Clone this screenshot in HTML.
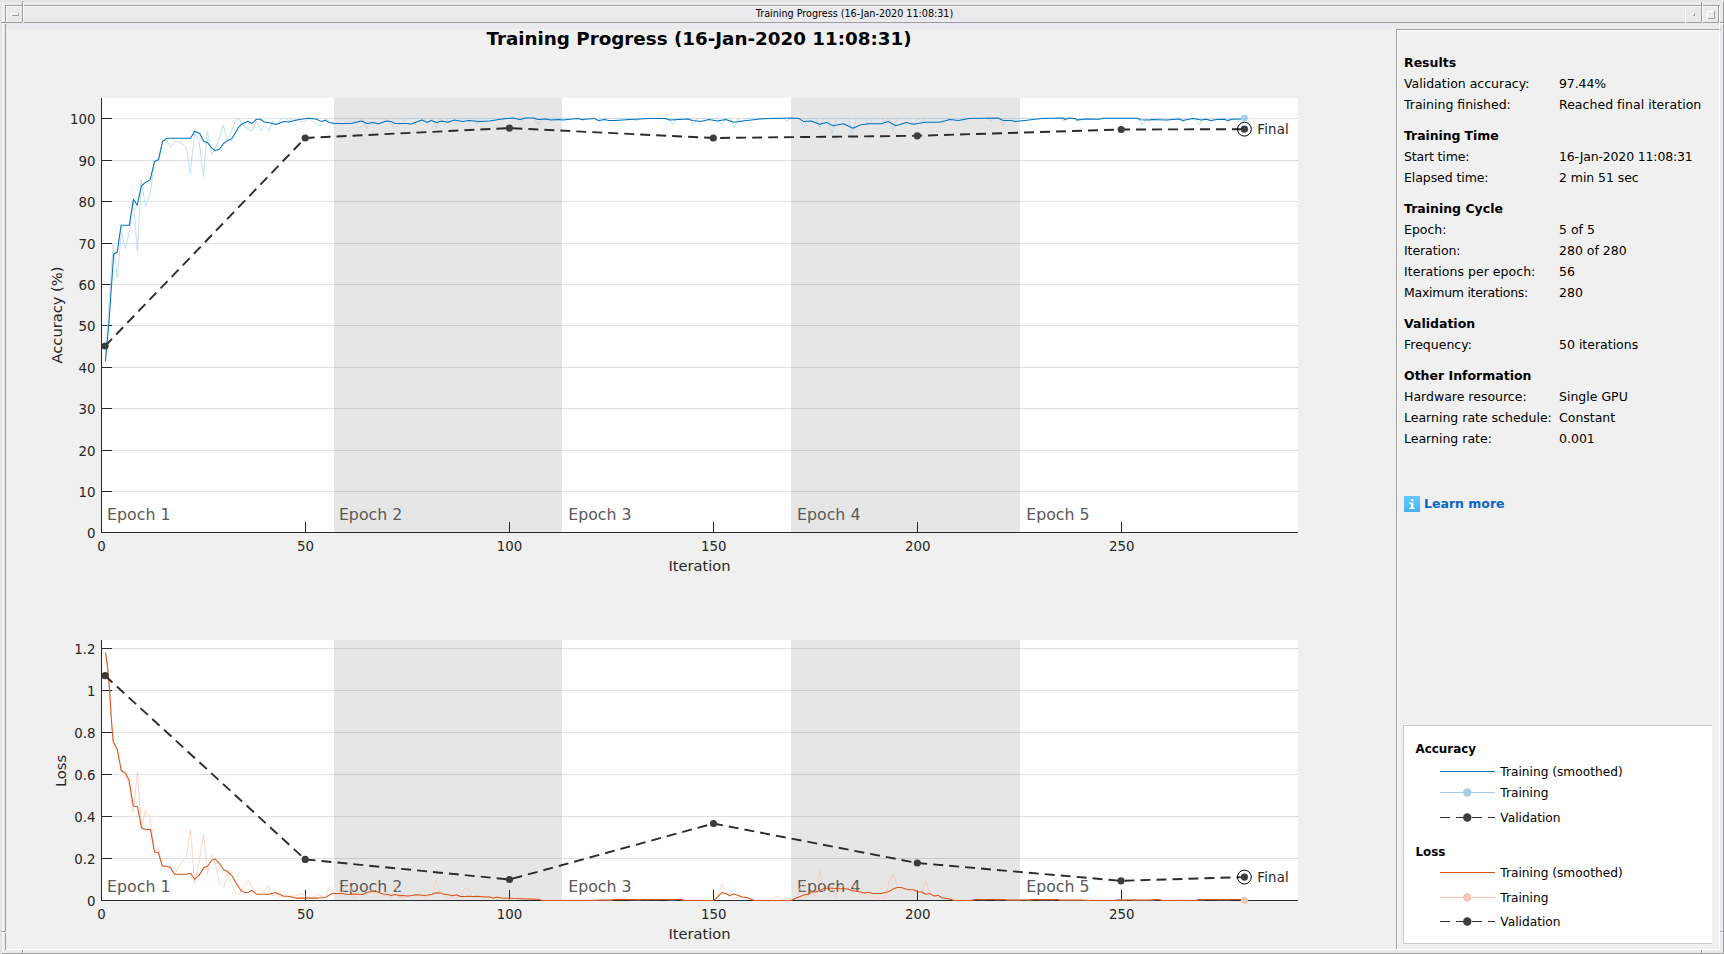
<!DOCTYPE html><html><head><meta charset="utf-8"><title>Training Progress (16-Jan-2020 11:08:31)</title><style>
html,body{margin:0;padding:0}
body{width:1724px;height:954px;overflow:hidden;background:#eae9ee;font-family:"DejaVu Sans","Liberation Sans",sans-serif;position:relative}
.a{position:absolute}
.dk{position:absolute;background:#9d9da2}
.wh{position:absolute;background:#fff}
#content{left:6px;top:29px;width:1713px;height:920px;background:#f0f0f0}
#wtitle{left:24px;top:6px;width:1661px;height:16px;line-height:16px;text-align:center;font-size:9.6px;color:#000;white-space:pre}
#ftitle{left:299px;width:800px;text-align:center;top:27px;font-size:18.3px;font-weight:bold;color:#000;white-space:pre;line-height:24px}
.pl{position:absolute;left:1404px;font-size:12.5px;line-height:21px;height:21px;color:#000;white-space:pre}
.pv{position:absolute;left:1559px;font-size:12.5px;line-height:21px;height:21px;color:#000;white-space:pre}
.ph{font-weight:bold}
#legend{left:1403px;top:725px;width:308px;height:217px;background:#fff;border:1px solid #c9c9c9;border-right:none;box-sizing:content-box}
.lg{position:absolute;font-size:12.2px;line-height:20px;height:20px;color:#000;white-space:pre}
svg text{font-family:"DejaVu Sans","Liberation Sans",sans-serif}
</style></head><body>
<div id="content" class="a"></div>
<div class="a" style="left:0px;top:0px;width:1724px;height:2px;background:#e4e4e4"></div><div class="a" style="left:0px;top:0px;width:2px;height:954px;background:#e4e4e4"></div><div class="a" style="left:2px;top:2px;width:2px;height:950px;background:#f3f2f6"></div><div class="dk" style="left:5px;top:5px;width:1714px;height:1px"></div><div class="wh" style="left:6px;top:6px;width:1712px;height:1px"></div><div class="dk" style="left:5px;top:5px;width:1px;height:18px"></div><div class="wh" style="left:6px;top:6px;width:1px;height:16px"></div><div class="dk" style="left:22px;top:1px;width:1px;height:22px"></div><div class="wh" style="left:23px;top:2px;width:1px;height:21px"></div><div class="dk" style="left:6px;top:22px;width:1713px;height:1px"></div><div class="wh" style="left:23px;top:2px;width:1px;height:21px"></div><div class="dk" style="left:1px;top:22px;width:5px;height:1px"></div><div class="wh" style="left:1px;top:23px;width:5px;height:1px"></div><div class="dk" style="left:5px;top:24px;width:1px;height:926px"></div><div class="dk" style="left:1px;top:931px;width:5px;height:1px"></div><div class="wh" style="left:1px;top:932px;width:5px;height:1px"></div><div class="wh" style="left:11px;top:13px;width:8px;height:1px"></div><div class="wh" style="left:11px;top:13px;width:1px;height:3px"></div><div class="dk" style="left:12px;top:15px;width:7px;height:1px"></div><div class="dk" style="left:18px;top:13px;width:1px;height:3px"></div><div class="wh" style="left:1685px;top:7px;width:1px;height:16px"></div><div class="dk" style="left:1701px;top:2px;width:1px;height:21px"></div><div class="wh" style="left:1702px;top:2px;width:1px;height:21px"></div><div class="dk" style="left:1718px;top:5px;width:1px;height:18px"></div><div class="dk" style="left:1719px;top:5px;width:1px;height:1px"></div><div class="wh" style="left:1719px;top:6px;width:1px;height:943px"></div><div class="wh" style="left:1692px;top:13px;width:3px;height:1px"></div><div class="wh" style="left:1692px;top:13px;width:1px;height:3px"></div><div class="dk" style="left:1693px;top:15px;width:2px;height:1px"></div><div class="dk" style="left:1694px;top:13px;width:1px;height:3px"></div><div class="wh" style="left:1707px;top:11px;width:8px;height:1px"></div><div class="wh" style="left:1707px;top:11px;width:1px;height:8px"></div><div class="dk" style="left:1708px;top:18px;width:7px;height:1px"></div><div class="dk" style="left:1714px;top:11px;width:1px;height:8px"></div><div class="dk" style="left:1723px;top:2px;width:1px;height:20px"></div><div class="dk" style="left:1720px;top:22px;width:4px;height:1px"></div><div class="wh" style="left:1720px;top:23px;width:3px;height:1px"></div><div class="dk" style="left:1723px;top:24px;width:1px;height:930px"></div><div class="dk" style="left:1720px;top:931px;width:3px;height:1px"></div><div class="wh" style="left:1720px;top:932px;width:3px;height:1px"></div><div class="wh" style="left:6px;top:949px;width:1714px;height:1px"></div><div class="dk" style="left:2px;top:953px;width:1722px;height:1px"></div><div class="dk" style="left:22px;top:950px;width:1px;height:4px"></div><div class="wh" style="left:23px;top:950px;width:1px;height:3px"></div><div class="dk" style="left:1701px;top:950px;width:1px;height:4px"></div><div class="wh" style="left:1702px;top:950px;width:1px;height:3px"></div><div class="dk" style="left:1396px;top:29px;width:323px;height:1px"></div><div class="wh" style="left:1397px;top:30px;width:322px;height:1px"></div><div class="wh" style="left:1719px;top:29px;width:1px;height:2px"></div><div class="dk" style="left:1720px;top:29px;width:1px;height:1px"></div><div class="dk" style="left:1396px;top:29px;width:1px;height:920px"></div><div class="wh" style="left:1397px;top:30px;width:1px;height:919px"></div>
<div id="wtitle" class="a">Training Progress (16-Jan-2020 11:08:31)</div>
<div id="ftitle" class="a">Training Progress (16-Jan-2020 11:08:31)</div>
<svg class="a" style="left:0;top:0" width="1724" height="954" viewBox="0 0 1724 954"><rect x="101" y="98" width="1197" height="434.5" fill="#fff"/><rect x="334.0" y="98" width="228.0" height="434.5" fill="#e6e6e6"/><rect x="791.0" y="98" width="229.0" height="434.5" fill="#e6e6e6"/><line x1="101" x2="1298" y1="491.5" y2="491.5" stroke="#262626" stroke-opacity="0.15" stroke-width="1"/><line x1="101" x2="1298" y1="450.5" y2="450.5" stroke="#262626" stroke-opacity="0.15" stroke-width="1"/><line x1="101" x2="1298" y1="408.5" y2="408.5" stroke="#262626" stroke-opacity="0.15" stroke-width="1"/><line x1="101" x2="1298" y1="367.5" y2="367.5" stroke="#262626" stroke-opacity="0.15" stroke-width="1"/><line x1="101" x2="1298" y1="325.5" y2="325.5" stroke="#262626" stroke-opacity="0.15" stroke-width="1"/><line x1="101" x2="1298" y1="284.5" y2="284.5" stroke="#262626" stroke-opacity="0.15" stroke-width="1"/><line x1="101" x2="1298" y1="243.5" y2="243.5" stroke="#262626" stroke-opacity="0.15" stroke-width="1"/><line x1="101" x2="1298" y1="201.5" y2="201.5" stroke="#262626" stroke-opacity="0.15" stroke-width="1"/><line x1="101" x2="1298" y1="160.5" y2="160.5" stroke="#262626" stroke-opacity="0.15" stroke-width="1"/><line x1="101" x2="1298" y1="118.5" y2="118.5" stroke="#262626" stroke-opacity="0.15" stroke-width="1"/><line x1="101.5" x2="101.5" y1="98" y2="533.0" stroke="#262626" stroke-width="1"/><line x1="101" x2="1298" y1="532.5" y2="532.5" stroke="#262626" stroke-width="1"/><line x1="101" x2="112" y1="532.5" y2="532.5" stroke="#262626" stroke-width="1"/><line x1="101" x2="112" y1="491.5" y2="491.5" stroke="#262626" stroke-width="1"/><line x1="101" x2="112" y1="450.5" y2="450.5" stroke="#262626" stroke-width="1"/><line x1="101" x2="112" y1="408.5" y2="408.5" stroke="#262626" stroke-width="1"/><line x1="101" x2="112" y1="367.5" y2="367.5" stroke="#262626" stroke-width="1"/><line x1="101" x2="112" y1="325.5" y2="325.5" stroke="#262626" stroke-width="1"/><line x1="101" x2="112" y1="284.5" y2="284.5" stroke="#262626" stroke-width="1"/><line x1="101" x2="112" y1="243.5" y2="243.5" stroke="#262626" stroke-width="1"/><line x1="101" x2="112" y1="201.5" y2="201.5" stroke="#262626" stroke-width="1"/><line x1="101" x2="112" y1="160.5" y2="160.5" stroke="#262626" stroke-width="1"/><line x1="101" x2="112" y1="118.5" y2="118.5" stroke="#262626" stroke-width="1"/><line x1="101.5" x2="101.5" y1="532.5" y2="522.0" stroke="#262626" stroke-width="1"/><line x1="305.5" x2="305.5" y1="532.5" y2="522.0" stroke="#262626" stroke-width="1"/><line x1="509.5" x2="509.5" y1="532.5" y2="522.0" stroke="#262626" stroke-width="1"/><line x1="713.5" x2="713.5" y1="532.5" y2="522.0" stroke="#262626" stroke-width="1"/><line x1="917.5" x2="917.5" y1="532.5" y2="522.0" stroke="#262626" stroke-width="1"/><line x1="1121.5" x2="1121.5" y1="532.5" y2="522.0" stroke="#262626" stroke-width="1"/><text x="107.1" y="520" font-size="15.8" fill="#595959">Epoch 1</text><text x="338.9" y="520" font-size="15.8" fill="#595959">Epoch 2</text><text x="568.2" y="520" font-size="15.8" fill="#595959">Epoch 3</text><text x="797.0" y="520" font-size="15.8" fill="#595959">Epoch 4</text><text x="1026.2" y="520" font-size="15.8" fill="#595959">Epoch 5</text><polyline points="105.4,361.5 109.2,300.0 113.3,243.6 117.3,277.4 121.4,232.0 125.4,248.4 129.8,229.2 133.4,201.0 137.3,251.2 141.3,180.5 145.5,206.4 150.2,193.8 154.5,161.0 158.6,159.0 162.5,141.0 166.7,140.0 170.7,147.5 174.6,141.5 178.5,141.5 182.5,144.0 186.4,147.1 190.3,173.4 194.6,132.5 199.0,141.2 203.4,176.5 207.3,131.4 211.6,154.5 215.5,147.5 219.4,138.0 223.3,125.1 227.3,140.4 231.2,132.5 235.3,120.5 239.5,118.4 241.6,125.2 252.0,131.0 256.2,121.0 260.9,131.0 264.5,125.2 268.7,131.0 272.9,121.4 277.0,124.5 281.2,118.4 285.0,118.4 288.6,121.0 292.7,118.4 299.0,121.4 305.0,121.4 308.9,118.4 317.8,125.2 321.5,125.2 325.6,118.4 333.5,125.2 337.7,121.4 341.8,125.2 346.0,121.4 358.5,121.4 362.2,118.4 366.9,128.4 370.5,121.4 378.3,125.2 386.7,118.4 395.1,128.4 407.6,118.4 411.7,118.4 415.7,118.4 419.8,118.4 423.9,118.4 428.0,125.7 432.1,118.4 436.1,127.8 440.2,118.4 444.3,125.1 448.4,118.4 452.5,118.4 456.5,118.4 460.6,118.4 464.7,118.4 468.8,118.4 472.9,118.4 477.0,124.7 481.0,118.4 485.1,118.4 489.2,118.4 493.3,118.4 497.4,118.4 501.4,118.4 505.5,118.4 509.6,118.4 513.7,118.4 517.8,118.4 521.8,121.0 525.9,118.4 530.0,118.4 534.1,118.4 538.2,124.7 542.2,118.4 546.3,118.4 550.4,118.4 554.5,118.4 558.6,118.4 562.7,118.4 566.7,118.4 570.8,118.4 574.9,118.4 579.0,118.4 583.1,121.0 587.1,118.4 591.2,118.4 595.3,118.4 599.4,121.6 603.5,118.4 607.5,118.4 611.6,118.4 615.7,118.4 619.8,118.4 623.9,118.4 627.9,118.4 632.0,118.4 636.1,121.0 640.2,118.4 644.3,118.4 648.4,118.4 652.4,118.4 656.5,118.4 660.6,118.4 664.7,118.4 668.8,118.4 672.8,124.7 676.9,118.4 681.0,118.4 685.1,118.4 689.2,118.4 693.2,124.7 697.3,118.4 701.4,118.4 705.5,118.4 709.6,118.4 713.7,118.4 717.7,118.4 721.8,124.7 725.9,118.4 730.0,118.4 734.1,127.8 738.1,118.4 742.2,122.6 746.3,118.4 750.4,118.4 754.5,118.4 758.5,118.4 762.6,118.4 766.7,118.4 770.8,118.4 774.9,118.4 778.9,118.4 783.0,118.4 787.1,121.0 791.2,118.4 795.3,118.4 799.4,118.4 803.4,127.8 807.5,118.4 811.6,118.4 815.7,118.4 819.8,127.8 823.8,118.4 827.9,118.4 832.0,134.1 836.1,118.4 840.2,118.4 844.2,118.4 848.3,118.4 852.4,134.1 856.5,118.4 860.6,118.4 864.6,118.4 868.7,124.7 872.8,118.4 876.9,118.4 881.0,118.4 885.1,121.6 889.1,118.4 893.2,131.0 897.3,118.4 901.4,118.4 905.5,118.4 909.5,118.4 913.6,124.7 917.7,118.4 921.8,121.6 925.9,118.4 929.9,118.4 934.0,118.4 938.1,118.4 942.2,118.4 946.3,118.4 950.3,118.4 954.4,118.4 958.5,118.4 962.6,118.4 966.7,118.4 970.8,118.4 974.8,118.4 978.9,118.4 983.0,118.4 987.1,118.4 991.2,121.0 995.2,118.4 999.3,118.4 1003.4,125.7 1007.5,118.4 1011.6,118.4 1015.6,121.0 1019.7,118.4 1023.8,118.4 1027.9,118.4 1032.0,118.4 1036.0,118.4 1040.1,118.4 1044.2,118.4 1048.3,118.4 1052.4,118.4 1056.5,118.4 1060.5,118.4 1064.6,121.6 1068.7,118.4 1072.8,118.4 1076.9,121.0 1080.9,118.4 1085.0,118.4 1089.1,118.4 1093.2,118.4 1097.3,118.4 1101.3,118.4 1105.4,118.4 1109.5,118.4 1113.6,118.4 1117.7,118.4 1121.8,118.4 1125.8,118.4 1129.9,118.4 1134.0,118.4 1138.1,118.4 1142.2,125.0 1146.2,118.4 1150.3,121.6 1154.4,118.4 1158.5,118.4 1162.6,118.4 1166.6,121.6 1170.7,118.4 1174.8,118.4 1178.9,118.4 1183.0,121.6 1187.0,118.4 1191.1,118.4 1195.2,118.4 1199.3,125.0 1203.4,118.4 1207.5,118.4 1211.5,121.6 1215.6,118.4 1219.7,118.4 1223.8,118.4 1227.9,121.6 1231.9,118.4 1236.0,118.4 1240.1,118.4 1244.2,118.3" fill="none" stroke="#b5d6ec" stroke-width="0.8" stroke-linejoin="round"/><polyline points="105.4,361.5 109.0,322.0 113.7,253.8 117.2,252.2 121.1,225.3 125.2,225.3 129.3,225.3 133.4,199.3 137.2,205.3 141.3,186.0 145.5,182.4 150.2,179.7 154.5,161.6 158.6,159.7 162.5,141.5 166.7,138.3 190.6,138.3 194.6,131.3 199.8,133.6 203.7,141.2 207.6,142.7 211.6,147.8 215.2,150.6 219.4,149.3 223.7,143.2 228.0,140.4 231.7,138.8 235.3,133.0 239.0,126.8 241.6,124.2 247.8,121.3 252.0,123.5 256.2,119.3 260.4,119.3 264.5,122.1 270.8,123.1 276.0,124.5 283.9,121.4 288.6,122.1 299.0,119.5 308.9,118.2 316.7,119.3 320.9,121.4 325.1,120.3 328.8,122.4 335.5,123.5 351.2,123.5 361.6,121.0 366.9,123.5 373.1,122.4 378.3,123.7 386.7,121.0 390.9,121.4 395.0,123.5 408.0,123.5 410.4,124.3 421.9,120.1 427.1,122.2 431.3,120.5 436.5,122.6 441.8,120.9 448.0,122.2 454.3,120.1 462.6,121.4 468.9,120.5 479.3,121.4 489.8,120.9 500.2,119.3 512.8,118.0 520.0,119.5 525.3,118.0 533.6,118.0 537.8,119.5 546.2,118.9 550.3,120.1 558.7,119.5 562.9,120.1 577.5,118.4 581.7,119.5 594.2,118.4 598.4,120.5 604.6,119.5 608.8,120.5 615.0,120.5 629.7,119.5 650.6,118.4 665.2,118.4 669.4,120.1 688.2,118.9 692.3,120.5 700.7,121.4 709.0,119.5 717.4,120.9 725.7,119.5 734.1,122.2 742.5,120.9 760.0,118.9 791.3,118.0 798.6,118.4 803.9,121.6 811.2,120.9 819.5,124.3 826.8,122.6 833.1,125.7 843.5,123.7 852.9,128.3 860.2,125.1 868.6,123.7 881.1,123.7 888.4,121.6 895.7,125.7 906.2,122.6 913.5,124.3 925.0,122.2 939.6,122.2 950.0,119.5 958.4,120.5 968.8,118.4 998.0,118.0 1003.3,120.5 1010.6,120.5 1015.8,121.6 1020.0,120.9 1041.9,118.4 1062.8,118.0 1064.9,119.5 1069.0,118.0 1075.3,118.4 1077.4,120.1 1085.7,118.9 1100.0,119.2 1102.4,118.3 1137.8,118.3 1140.2,119.7 1148.7,120.1 1152.4,119.5 1165.8,120.1 1173.1,119.5 1179.2,118.9 1182.8,120.5 1192.6,118.5 1196.2,118.9 1201.1,120.1 1206.0,119.2 1210.8,120.5 1216.9,119.5 1224.2,119.2 1227.9,120.5 1231.5,119.2 1244.3,118.9" fill="none" stroke="#0072bd" stroke-width="1.05" stroke-linejoin="round"/><polyline points="105.1,346.0 305.2,138.0 509.4,128.1 713.3,138.0 917.3,135.8 1121.2,129.5 1244.4,129.2" fill="none" stroke="#2b2b2b" stroke-width="1.9" stroke-dasharray="10 6"/><circle cx="105.1" cy="346" r="3.6" fill="#3c3c3c"/><circle cx="305.2" cy="138" r="3.6" fill="#3c3c3c"/><circle cx="509.4" cy="128.1" r="3.6" fill="#3c3c3c"/><circle cx="713.3" cy="138" r="3.6" fill="#3c3c3c"/><circle cx="917.3" cy="135.8" r="3.6" fill="#3c3c3c"/><circle cx="1121.2" cy="129.5" r="3.6" fill="#3c3c3c"/><circle cx="1244.4" cy="129.2" r="3.6" fill="#3c3c3c"/><circle cx="1244.4" cy="129.2" r="6.9" fill="none" stroke="#000" stroke-width="1"/><text x="1257.3" y="134.4" font-size="13.33" letter-spacing="0.2" fill="#262626">Final</text><circle cx="1244.4" cy="118.3" r="3.5" fill="#a6cde9"/><text x="95.5" y="538.0" font-size="13.33" fill="#262626" text-anchor="end">0</text><text x="95.5" y="497.0" font-size="13.33" fill="#262626" text-anchor="end">10</text><text x="95.5" y="456.0" font-size="13.33" fill="#262626" text-anchor="end">20</text><text x="95.5" y="414.0" font-size="13.33" fill="#262626" text-anchor="end">30</text><text x="95.5" y="373.0" font-size="13.33" fill="#262626" text-anchor="end">40</text><text x="95.5" y="331.0" font-size="13.33" fill="#262626" text-anchor="end">50</text><text x="95.5" y="290.0" font-size="13.33" fill="#262626" text-anchor="end">60</text><text x="95.5" y="249.0" font-size="13.33" fill="#262626" text-anchor="end">70</text><text x="95.5" y="207.0" font-size="13.33" fill="#262626" text-anchor="end">80</text><text x="95.5" y="166.0" font-size="13.33" fill="#262626" text-anchor="end">90</text><text x="95.5" y="124.0" font-size="13.33" fill="#262626" text-anchor="end">100</text><text x="101.5" y="551" font-size="13.33" fill="#262626" text-anchor="middle">0</text><text x="305.6" y="551" font-size="13.33" fill="#262626" text-anchor="middle">50</text><text x="509.6" y="551" font-size="13.33" fill="#262626" text-anchor="middle">100</text><text x="713.7" y="551" font-size="13.33" fill="#262626" text-anchor="middle">150</text><text x="917.7" y="551" font-size="13.33" fill="#262626" text-anchor="middle">200</text><text x="1121.8" y="551" font-size="13.33" fill="#262626" text-anchor="middle">250</text><text x="699.5" y="571" font-size="14.67" fill="#262626" text-anchor="middle">Iteration</text><text transform="translate(61.8,315) rotate(-90)" font-size="14.67" fill="#262626" text-anchor="middle">Accuracy (%)</text><rect x="101" y="640" width="1197" height="260.5" fill="#fff"/><rect x="334.0" y="640" width="228.0" height="260.5" fill="#e6e6e6"/><rect x="791.0" y="640" width="229.0" height="260.5" fill="#e6e6e6"/><line x1="101" x2="1298" y1="858.5" y2="858.5" stroke="#262626" stroke-opacity="0.15" stroke-width="1"/><line x1="101" x2="1298" y1="816.5" y2="816.5" stroke="#262626" stroke-opacity="0.15" stroke-width="1"/><line x1="101" x2="1298" y1="774.5" y2="774.5" stroke="#262626" stroke-opacity="0.15" stroke-width="1"/><line x1="101" x2="1298" y1="732.5" y2="732.5" stroke="#262626" stroke-opacity="0.15" stroke-width="1"/><line x1="101" x2="1298" y1="690.5" y2="690.5" stroke="#262626" stroke-opacity="0.15" stroke-width="1"/><line x1="101" x2="1298" y1="648.5" y2="648.5" stroke="#262626" stroke-opacity="0.15" stroke-width="1"/><line x1="101.5" x2="101.5" y1="640" y2="901.0" stroke="#262626" stroke-width="1"/><line x1="101" x2="1298" y1="900.5" y2="900.5" stroke="#262626" stroke-width="1"/><line x1="101" x2="112" y1="900.5" y2="900.5" stroke="#262626" stroke-width="1"/><line x1="101" x2="112" y1="858.5" y2="858.5" stroke="#262626" stroke-width="1"/><line x1="101" x2="112" y1="816.5" y2="816.5" stroke="#262626" stroke-width="1"/><line x1="101" x2="112" y1="774.5" y2="774.5" stroke="#262626" stroke-width="1"/><line x1="101" x2="112" y1="732.5" y2="732.5" stroke="#262626" stroke-width="1"/><line x1="101" x2="112" y1="690.5" y2="690.5" stroke="#262626" stroke-width="1"/><line x1="101" x2="112" y1="648.5" y2="648.5" stroke="#262626" stroke-width="1"/><line x1="101.5" x2="101.5" y1="900.5" y2="890.0" stroke="#262626" stroke-width="1"/><line x1="305.5" x2="305.5" y1="900.5" y2="890.0" stroke="#262626" stroke-width="1"/><line x1="509.5" x2="509.5" y1="900.5" y2="890.0" stroke="#262626" stroke-width="1"/><line x1="713.5" x2="713.5" y1="900.5" y2="890.0" stroke="#262626" stroke-width="1"/><line x1="917.5" x2="917.5" y1="900.5" y2="890.0" stroke="#262626" stroke-width="1"/><line x1="1121.5" x2="1121.5" y1="900.5" y2="890.0" stroke="#262626" stroke-width="1"/><text x="107.1" y="892" font-size="15.8" fill="#595959">Epoch 1</text><text x="338.9" y="892" font-size="15.8" fill="#595959">Epoch 2</text><text x="568.2" y="892" font-size="15.8" fill="#595959">Epoch 3</text><text x="797.0" y="892" font-size="15.8" fill="#595959">Epoch 4</text><text x="1026.2" y="892" font-size="15.8" fill="#595959">Epoch 5</text><polyline points="105.5,652.3 109.4,690.0 113.2,745.0 117.4,752.0 121.2,768.0 125.5,776.0 129.5,786.0 133.3,812.0 137.5,772.1 141.5,829.4 145.3,810.3 150.2,818.1 154.5,852.1 158.3,847.8 162.3,866.2 166.5,866.5 170.5,867.6 174.6,874.3 178.5,867.6 182.0,862.0 186.3,857.0 190.6,829.4 194.5,883.9 199.0,862.0 203.6,834.4 207.5,874.0 211.4,854.2 215.3,863.4 219.6,883.2 223.8,887.4 227.4,872.6 231.6,883.2 235.8,893.1 239.4,894.5 244.3,885.3 248.6,880.1 252.1,887.4 256.4,890.3 259.9,887.7 264.1,892.4 268.4,885.3 272.6,895.9 276.2,894.2 279.7,896.6 296.0,895.9 300.9,893.8 306.6,896.6 312.3,897.4 319.3,894.5 325.7,898.1 329.2,887.2 333.5,893.1 340.0,895.9 342.3,892.6 346.4,882.2 350.4,887.7 354.5,898.5 358.6,893.4 362.7,893.9 366.8,895.4 370.8,890.6 374.9,893.1 379.0,893.2 383.1,896.3 387.2,894.8 391.3,898.0 395.3,884.9 399.4,897.8 403.5,898.4 407.6,895.6 411.7,898.3 415.7,893.9 419.8,894.3 423.9,896.4 428.0,896.8 432.1,894.8 436.1,880.5 440.2,893.2 444.3,893.1 448.4,898.7 452.5,897.7 456.5,898.3 460.6,896.1 464.7,888.2 468.8,888.3 472.9,897.9 477.0,896.9 481.0,897.3 485.1,897.5 489.2,896.4 493.3,898.6 497.4,899.0 501.4,897.8 505.5,898.4 509.6,899.3 513.7,898.7 517.8,897.2 521.8,899.0 525.9,899.3 530.0,898.9 534.1,899.4 538.2,896.3 542.2,900.2 546.3,900.2 550.4,900.2 554.5,900.2 558.6,900.2 562.7,900.2 566.7,900.2 570.8,900.1 574.9,900.2 579.0,900.2 583.1,900.1 587.1,900.1 591.2,900.2 595.3,900.2 599.4,900.0 603.5,900.0 607.5,900.0 611.6,900.0 615.7,897.4 619.8,899.5 623.9,897.4 627.9,899.6 632.0,899.7 636.1,899.9 640.2,899.9 644.3,899.6 648.4,899.8 652.4,899.5 656.5,899.7 660.6,899.5 664.7,899.5 668.8,899.8 672.8,899.9 676.9,899.6 681.0,899.6 685.1,900.2 689.2,900.2 693.2,900.1 697.3,900.1 701.4,900.2 705.5,900.1 709.6,900.2 713.7,900.2 717.7,897.0 721.8,884.0 725.9,892.5 730.0,897.4 734.1,898.6 738.1,897.4 742.2,898.3 746.3,897.3 750.4,899.1 754.5,900.2 758.5,900.1 762.6,900.2 766.7,900.2 770.8,900.1 774.9,896.8 778.9,896.8 783.0,900.2 787.1,898.3 791.2,900.1 795.3,898.6 799.4,889.5 803.4,880.8 807.5,896.8 811.6,891.5 815.7,896.6 819.8,869.6 823.8,892.1 827.9,896.6 832.0,886.1 836.1,897.2 840.2,884.9 844.2,886.3 848.3,887.7 852.4,884.6 856.5,891.2 860.6,894.2 864.6,893.6 868.7,895.4 872.8,896.2 876.9,898.5 881.0,896.8 885.1,898.5 889.1,881.6 893.2,874.0 897.3,886.1 901.4,889.5 905.5,888.2 909.5,891.4 913.6,891.8 917.7,891.0 921.8,893.6 925.9,881.2 929.9,892.8 934.0,896.4 938.1,895.2 942.2,899.1 946.3,895.0 950.3,899.1 954.4,900.2 958.5,900.2 962.6,900.2 966.7,900.2 970.8,900.2 974.8,899.6 978.9,899.6 983.0,899.7 987.1,899.5 991.2,897.4 995.2,899.8 999.3,899.7 1003.4,899.5 1007.5,900.0 1011.6,900.0 1015.6,900.0 1019.7,900.0 1023.8,898.4 1027.9,900.0 1032.0,899.8 1036.0,899.6 1040.1,899.8 1044.2,899.8 1048.3,899.7 1052.4,899.9 1056.5,899.5 1060.5,900.0 1064.6,900.0 1068.7,900.0 1072.8,900.0 1076.9,900.0 1080.9,900.0 1085.0,900.1 1089.1,898.1 1093.2,900.2 1097.3,900.2 1101.3,900.1 1105.4,900.2 1109.5,900.2 1113.6,900.2 1117.7,900.0 1121.8,900.0 1125.8,900.0 1129.9,898.3 1134.0,900.0 1138.1,900.0 1142.2,900.0 1146.2,900.0 1150.3,900.0 1154.4,899.9 1158.5,899.6 1162.6,900.2 1166.6,900.1 1170.7,900.1 1174.8,900.2 1178.9,898.9 1183.0,900.2 1187.0,900.2 1191.1,900.1 1195.2,900.2 1199.3,899.8 1203.4,899.8 1207.5,899.5 1211.5,899.6 1215.6,899.6 1219.7,899.8 1223.8,899.6 1227.9,899.8 1231.9,899.5 1236.0,899.5 1240.1,899.6 1244.2,900.2" fill="none" stroke="#f6cdbc" stroke-width="0.8" stroke-linejoin="round"/><polyline points="105.5,652.3 107.5,665.8 109.4,686.6 111.3,718.7 113.2,741.3 117.4,749.8 121.2,770.7 125.5,773.1 129.0,779.9 133.3,806.1 137.5,806.8 141.5,827.7 145.3,829.4 150.5,829.4 154.5,852.1 158.3,852.5 162.3,866.2 166.5,866.2 170.5,867.6 174.6,874.3 187.0,874.3 190.6,873.3 194.5,879.2 199.0,875.4 204.0,867.4 207.5,866.2 211.8,860.3 215.3,859.1 219.6,863.8 223.8,869.8 227.4,871.5 232.3,876.1 236.5,883.9 240.8,890.3 244.3,892.4 248.5,892.4 252.1,890.3 256.4,894.2 269.1,894.2 275.5,892.4 283.2,895.9 289.6,896.4 296.0,898.1 317.9,898.1 325.7,897.4 332.0,893.5 340.0,893.5 342.3,893.4 346.4,894.3 350.4,894.5 354.5,893.9 358.6,894.3 362.7,894.4 366.8,892.6 370.8,891.8 374.9,891.1 379.0,892.4 383.1,894.1 387.2,894.3 391.3,895.5 395.3,894.4 399.4,895.6 403.5,895.6 407.6,896.1 411.7,895.6 415.7,894.8 419.8,895.0 423.9,895.5 428.0,895.1 432.1,894.3 436.1,892.8 440.2,893.0 444.3,894.2 448.4,894.8 452.5,895.7 456.5,894.8 460.6,896.4 464.7,896.4 468.8,896.2 472.9,896.4 477.0,896.2 481.0,896.4 485.1,897.0 489.2,896.9 493.3,897.9 497.4,897.0 501.4,897.9 505.5,898.2 509.6,897.9 513.7,898.6 517.8,898.7 521.8,898.7 525.9,899.1 530.0,898.9 534.1,899.2 538.2,899.3 542.2,900.4 546.3,900.4 550.4,900.4 554.5,900.4 558.6,900.4 562.7,900.4 566.7,900.4 570.8,900.4 574.9,900.4 579.0,900.4 583.1,900.4 587.1,900.4 591.2,900.4 595.3,900.4 599.4,900.0 603.5,900.0 607.5,900.0 611.6,900.0 615.7,899.5 619.8,899.5 623.9,899.5 627.9,899.5 632.0,899.5 636.1,899.5 640.2,899.5 644.3,899.5 648.4,899.5 652.4,899.5 656.5,899.5 660.6,899.5 664.7,899.5 668.8,899.5 672.8,899.5 676.9,899.5 681.0,899.5 685.1,900.4 689.2,900.4 693.2,900.4 697.3,900.4 701.4,900.4 705.5,900.4 709.6,900.4 713.7,900.4 717.7,896.8 721.8,892.6 725.9,893.7 730.0,895.6 734.1,894.0 738.1,895.4 742.2,896.9 746.3,897.6 750.4,898.8 754.5,900.4 758.5,900.4 762.6,900.4 766.7,900.4 770.8,900.4 774.9,900.4 778.9,900.4 783.0,900.4 787.1,900.4 791.2,900.4 795.3,898.5 799.4,896.8 803.4,895.3 807.5,894.3 811.6,891.9 815.7,892.1 819.8,890.6 823.8,888.5 827.9,888.2 832.0,888.2 836.1,888.5 840.2,888.8 844.2,888.7 848.3,889.1 852.4,891.0 856.5,890.9 860.6,892.1 864.6,893.0 868.7,892.3 872.8,893.4 876.9,893.6 881.0,893.4 885.1,892.5 889.1,891.6 893.2,888.9 897.3,887.6 901.4,887.5 905.5,889.1 909.5,889.4 913.6,889.7 917.7,891.7 921.8,892.0 925.9,894.3 929.9,893.6 934.0,896.0 938.1,895.4 942.2,897.8 946.3,898.5 950.3,899.2 954.4,900.4 958.5,900.4 962.6,900.4 966.7,900.4 970.8,900.4 974.8,899.5 978.9,899.5 983.0,899.5 987.1,899.5 991.2,899.5 995.2,899.5 999.3,899.5 1003.4,899.5 1007.5,900.0 1011.6,900.0 1015.6,900.0 1019.7,900.0 1023.8,900.0 1027.9,900.0 1032.0,899.5 1036.0,899.5 1040.1,899.5 1044.2,899.5 1048.3,899.5 1052.4,899.5 1056.5,899.5 1060.5,900.0 1064.6,900.0 1068.7,900.0 1072.8,900.0 1076.9,900.0 1080.9,900.0 1085.0,900.4 1089.1,900.4 1093.2,900.4 1097.3,900.4 1101.3,900.4 1105.4,900.4 1109.5,900.4 1113.6,900.4 1117.7,900.0 1121.8,900.0 1125.8,900.0 1129.9,900.0 1134.0,900.0 1138.1,900.0 1142.2,900.0 1146.2,900.0 1150.3,900.0 1154.4,899.5 1158.5,899.5 1162.6,900.4 1166.6,900.4 1170.7,900.4 1174.8,900.4 1178.9,900.4 1183.0,900.4 1187.0,900.4 1191.1,900.4 1195.2,900.4 1199.3,899.5 1203.4,899.5 1207.5,899.5 1211.5,899.5 1215.6,899.5 1219.7,899.5 1223.8,899.5 1227.9,899.5 1231.9,899.5 1236.0,899.5 1240.1,899.5 1244.2,899.5" fill="none" stroke="#d95319" stroke-width="1.05" stroke-linejoin="round"/><polyline points="105.1,675.7 305.2,859.4 509.5,879.5 713.5,823.5 917.3,863.0 1121.0,880.8 1244.4,877.1" fill="none" stroke="#2b2b2b" stroke-width="1.9" stroke-dasharray="10 6"/><circle cx="105.1" cy="675.7" r="3.6" fill="#3c3c3c"/><circle cx="305.2" cy="859.4" r="3.6" fill="#3c3c3c"/><circle cx="509.5" cy="879.5" r="3.6" fill="#3c3c3c"/><circle cx="713.5" cy="823.5" r="3.6" fill="#3c3c3c"/><circle cx="917.3" cy="863" r="3.6" fill="#3c3c3c"/><circle cx="1121" cy="880.8" r="3.6" fill="#3c3c3c"/><circle cx="1244.4" cy="877.1" r="3.6" fill="#3c3c3c"/><circle cx="1244.4" cy="877.1" r="6.9" fill="none" stroke="#000" stroke-width="1"/><text x="1257.3" y="882.3" font-size="13.33" letter-spacing="0.2" fill="#262626">Final</text><circle cx="1244.4" cy="900.3" r="3.5" fill="#f4c7b4"/><text x="95.5" y="906.0" font-size="13.33" fill="#262626" text-anchor="end">0</text><text x="95.5" y="864.0" font-size="13.33" fill="#262626" text-anchor="end">0.2</text><text x="95.5" y="822.0" font-size="13.33" fill="#262626" text-anchor="end">0.4</text><text x="95.5" y="780.0" font-size="13.33" fill="#262626" text-anchor="end">0.6</text><text x="95.5" y="738.0" font-size="13.33" fill="#262626" text-anchor="end">0.8</text><text x="95.5" y="696.0" font-size="13.33" fill="#262626" text-anchor="end">1</text><text x="95.5" y="654.0" font-size="13.33" fill="#262626" text-anchor="end">1.2</text><text x="101.5" y="919" font-size="13.33" fill="#262626" text-anchor="middle">0</text><text x="305.6" y="919" font-size="13.33" fill="#262626" text-anchor="middle">50</text><text x="509.6" y="919" font-size="13.33" fill="#262626" text-anchor="middle">100</text><text x="713.7" y="919" font-size="13.33" fill="#262626" text-anchor="middle">150</text><text x="917.7" y="919" font-size="13.33" fill="#262626" text-anchor="middle">200</text><text x="1121.8" y="919" font-size="13.33" fill="#262626" text-anchor="middle">250</text><text x="699.5" y="939" font-size="14.67" fill="#262626" text-anchor="middle">Iteration</text><text transform="translate(65.8,771) rotate(-90)" font-size="14.67" fill="#262626" text-anchor="middle">Loss</text></svg>
<div class="pl ph" style="top:52px">Results</div>
<div class="pl" style="top:73px">Validation accuracy:</div>
<div class="pv" style="top:73px;letter-spacing:-0.1px">97.44%</div>
<div class="pl" style="top:94px">Training finished:</div>
<div class="pv" style="top:94px;letter-spacing:0.03px">Reached final iteration</div>
<div class="pl ph" style="top:125px;letter-spacing:-0.09px">Training Time</div>
<div class="pl" style="top:146px;letter-spacing:-0.15px">Start time:</div>
<div class="pv" style="top:146px;letter-spacing:-0.16px">16-Jan-2020 11:08:31</div>
<div class="pl" style="top:167px;letter-spacing:-0.08px">Elapsed time:</div>
<div class="pv" style="top:167px;letter-spacing:-0.07px">2 min 51 sec</div>
<div class="pl ph" style="top:198px">Training Cycle</div>
<div class="pl" style="top:219px">Epoch:</div>
<div class="pv" style="top:219px">5 of 5</div>
<div class="pl" style="top:240px;letter-spacing:-0.08px">Iteration:</div>
<div class="pv" style="top:240px">280 of 280</div>
<div class="pl" style="top:261px;letter-spacing:0.04px">Iterations per epoch:</div>
<div class="pv" style="top:261px">56</div>
<div class="pl" style="top:282px;letter-spacing:-0.27px">Maximum iterations:</div>
<div class="pv" style="top:282px">280</div>
<div class="pl ph" style="top:313px">Validation</div>
<div class="pl" style="top:334px">Frequency:</div>
<div class="pv" style="top:334px">50 iterations</div>
<div class="pl ph" style="top:365px">Other Information</div>
<div class="pl" style="top:386px">Hardware resource:</div>
<div class="pv" style="top:386px">Single GPU</div>
<div class="pl" style="top:407px">Learning rate schedule:</div>
<div class="pv" style="top:407px">Constant</div>
<div class="pl" style="top:428px">Learning rate:</div>
<div class="pv" style="top:428px">0.001</div>
<div class="a" style="left:1404px;top:496px;width:16px;height:16px;background:linear-gradient(#5ec8ff,#59bef6 55%,#4cb2ec 90%,#45ade8)"></div>
<svg class="a" style="left:1404px;top:496px" width="16" height="16" viewBox="0 0 16 16"><rect x="7" y="3" width="2.4" height="2.2" fill="#fff"/><path d="M5.3 6.6h4.1v5.2h1.4v1.3H5.3v-1.3h1.6V7.9H5.3z" fill="#fff"/></svg>
<div class="pl ph" style="left:1424px;top:493px;color:#0a64c8">Learn more</div>
<div id="legend" class="a"></div>
<div class="lg ph" style="left:1415.5px;top:739px;font-size:11.9px">Accuracy</div>
<div class="lg" style="left:1500.3px;top:762px">Training (smoothed)</div>
<div class="lg" style="left:1500.3px;top:783px">Training</div>
<div class="lg" style="left:1500.3px;top:808px">Validation</div>
<div class="lg ph" style="left:1415.5px;top:842px;font-size:11.9px">Loss</div>
<div class="lg" style="left:1500.3px;top:863px">Training (smoothed)</div>
<div class="lg" style="left:1500.3px;top:888px">Training</div>
<div class="lg" style="left:1500.3px;top:912px">Validation</div>
<svg class="a" style="left:1430px;top:760px" width="80" height="180" viewBox="1430 760 80 180"><line x1="1440" x2="1495" y1="771.5" y2="771.5" stroke="#0072bd" stroke-width="1.1"/><line x1="1440" x2="1495" y1="792.5" y2="792.5" stroke="#a6cde9" stroke-width="1.1"/><circle cx="1467.3" cy="792.5" r="4.2" fill="#a6cde9"/><line x1="1440" x2="1495" y1="817.5" y2="817.5" stroke="#2e2e2e" stroke-width="1.2" stroke-dasharray="10 6"/><circle cx="1467.3" cy="817.5" r="4.2" fill="#3c3c3c"/><line x1="1440" x2="1495" y1="872.5" y2="872.5" stroke="#d95319" stroke-width="1.1"/><line x1="1440" x2="1495" y1="897.5" y2="897.5" stroke="#f4c7b4" stroke-width="1.1"/><circle cx="1467.3" cy="897.5" r="4.2" fill="#f4c7b4"/><line x1="1440" x2="1495" y1="921.5" y2="921.5" stroke="#2e2e2e" stroke-width="1.2" stroke-dasharray="10 6"/><circle cx="1467.3" cy="921.5" r="4.2" fill="#3c3c3c"/></svg>
</body></html>
